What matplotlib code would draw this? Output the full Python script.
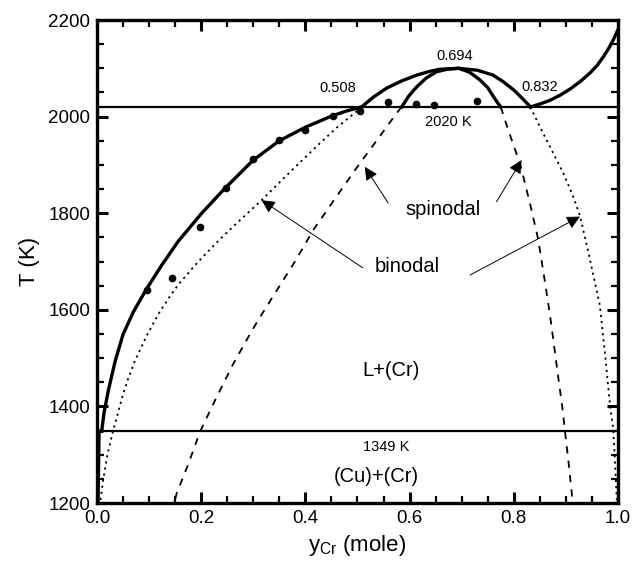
import matplotlib
matplotlib.use("Agg")
import matplotlib.pyplot as plt
from matplotlib.ticker import MultipleLocator

plt.rcParams['font.family'] = ['Liberation Sans', 'DejaVu Sans']

# liquidus, Cu-rich side (L / L+(Cr))
liq_left_x = [0.009, 0.014, 0.022, 0.035, 0.050, 0.070, 0.095, 0.124, 0.156, 0.201,
              0.246, 0.300, 0.350, 0.400, 0.450, 0.480, 0.508]
liq_left_T = [1349, 1390, 1434, 1494, 1549, 1596, 1643, 1692, 1742, 1800,
              1852, 1910, 1950, 1978, 2001, 2012, 2020]

# liquidus, Cr-rich side
liq_right_x = [0.832, 0.850, 0.870, 0.890, 0.908, 0.928, 0.946, 0.960, 0.972, 0.982, 0.991, 1.000]
liq_right_T = [2020, 2026, 2034, 2045, 2057, 2073, 2090, 2106, 2124, 2141, 2159, 2180]

# stable part of the binodal (above 2020 K)
bin_top_x = [0.508, 0.530, 0.556, 0.585, 0.614, 0.640, 0.658, 0.694, 0.730, 0.760, 0.780, 0.800, 0.816, 0.832]
bin_top_T = [2020, 2040, 2059, 2074, 2086, 2094, 2098, 2100, 2096, 2086, 2072, 2055, 2038, 2020]

# stable part of the spinodal (above 2020 K)
spi_top_x = [0.585, 0.598, 0.614, 0.632, 0.652, 0.672, 0.694, 0.715, 0.735, 0.750, 0.760, 0.768, 0.775]
spi_top_T = [2020, 2042, 2062, 2080, 2093, 2098, 2100, 2092, 2076, 2060, 2043, 2030, 2020]

# metastable binodal (dotted)
bin_left_x = [0.508, 0.495, 0.460, 0.425, 0.377, 0.345, 0.316, 0.265, 0.235, 0.207,
              0.188, 0.156, 0.140, 0.120, 0.098, 0.073, 0.060, 0.050, 0.031, 0.020,
              0.012, 0.006]
bin_left_T = [2020, 2008, 1977, 1942, 1892, 1858, 1827, 1776, 1745, 1714,
              1692, 1652, 1628, 1595, 1552, 1495, 1458, 1425, 1350, 1300,
              1248, 1200]
bin_right_x = [0.832, 0.850, 0.873, 0.895, 0.912, 0.927, 0.945, 0.965, 0.975, 0.985,
               0.991, 0.994, 0.997, 0.998]
bin_right_T = [2020, 1979, 1930, 1883, 1840, 1795, 1710, 1610, 1510, 1399,
               1351, 1290, 1223, 1200]

# metastable spinodal (dashed)
spi_left_x = [0.585, 0.575, 0.540, 0.505, 0.460, 0.415, 0.380, 0.345, 0.310, 0.287,
              0.260, 0.230, 0.198, 0.175, 0.153, 0.148]
spi_left_T = [2020, 2007, 1955, 1904, 1835, 1765, 1700, 1640, 1580, 1537,
              1485, 1420, 1348, 1280, 1220, 1200]
spi_right_x = [0.775, 0.787, 0.799, 0.812, 0.830, 0.847, 0.858, 0.869, 0.878, 0.886,
               0.893, 0.898, 0.905, 0.911, 0.913]
spi_right_T = [2020, 1980, 1942, 1903, 1825, 1745, 1670, 1593, 1520, 1455,
               1400, 1351, 1285, 1223, 1200]

# (Cu) solvus
solvus_x = [0.002, 0.004, 0.009]
solvus_T = [1200, 1349, 1349]

# experimental points
exp_x = [0.096, 0.144, 0.198, 0.247, 0.300, 0.350, 0.400, 0.453, 0.505, 0.558, 0.612, 0.647, 0.729]
exp_T = [1641, 1666, 1772, 1852, 1912, 1952, 1972, 2002, 2011, 2031, 2027, 2023, 2033]

T_mono = 2020
T_eut = 1349

fig = plt.figure(figsize=(6.33, 5.65), dpi=100)
ax = fig.add_axes([0.1532, 0.1097, 0.8231, 0.8549])

ax.axhline(T_mono, color='k', lw=1.6)
ax.axhline(T_eut, color='k', lw=1.6)

ax.plot(liq_left_x, liq_left_T, 'k-', lw=2.4)
ax.plot(liq_right_x, liq_right_T, 'k-', lw=2.4)
ax.plot(bin_top_x, bin_top_T, 'k-', lw=2.4)
ax.plot(spi_top_x, spi_top_T, 'k-', lw=2.4)
ax.plot(solvus_x, solvus_T, 'k-', lw=2.4)

ax.plot(bin_left_x, bin_left_T, 'k', ls=(0, (1.2, 2.2)), lw=1.3)
ax.plot(bin_right_x, bin_right_T, 'k', ls=(0, (1.2, 2.2)), lw=1.3)
ax.plot(spi_left_x, spi_left_T, 'k', ls=(0, (4, 4)), lw=1.3)
ax.plot(spi_right_x, spi_right_T, 'k', ls=(0, (4, 4)), lw=1.3)

ax.plot(exp_x, exp_T, 'ko', ms=4.5)

# labels
ax.text(0.462, 2059, '0.508', fontsize=10.5, ha='center', va='center')
ax.text(0.687, 2125, '0.694', fontsize=10.5, ha='center', va='center')
ax.text(0.850, 2061, '0.832', fontsize=10.5, ha='center', va='center')
ax.text(0.674, 1989, '2020 K', fontsize=10.5, ha='center', va='center')
ax.text(0.555, 1316, '1349 K', fontsize=10.5, ha='center', va='center')
ax.text(0.565, 1475, 'L+(Cr)', fontsize=14.5, ha='center', va='center')
ax.text(0.537, 1254, '(Cu)+(Cr)', fontsize=14.5, ha='center', va='center')
ax.text(0.664, 1807, 'spinodal', fontsize=14.5, ha='center', va='center')
ax.text(0.595, 1689, 'binodal', fontsize=14.5, ha='center', va='center')

arrow = dict(arrowstyle='-|>', color='k', lw=0.7, mutation_scale=20, shrinkA=0, shrinkB=0)
ax.annotate('', xy=(0.316, 1827), xytext=(0.51, 1687), arrowprops=arrow)
ax.annotate('', xy=(0.927, 1793), xytext=(0.716, 1672), arrowprops=arrow)
ax.annotate('', xy=(0.514, 1896), xytext=(0.559, 1821), arrowprops=arrow)
ax.annotate('', xy=(0.815, 1910), xytext=(0.767, 1824), arrowprops=arrow)

ax.set_xlim(0, 1)
ax.set_ylim(1200, 2200)
ax.xaxis.set_major_locator(MultipleLocator(0.2))
ax.xaxis.set_minor_locator(MultipleLocator(0.05))
ax.yaxis.set_major_locator(MultipleLocator(200))
ax.yaxis.set_minor_locator(MultipleLocator(50))
ax.xaxis.set_major_formatter(plt.FuncFormatter(lambda v, p: f'{v:.1f}'))
ax.tick_params(which='both', direction='in', top=True, right=True, labelsize=13.5)
ax.tick_params(which='major', length=8, width=2.2, pad=5)
ax.tick_params(which='minor', length=5, width=1.6)
for s in ax.spines.values():
    s.set_linewidth(2.4)

ax.set_xlabel(r'y$_{\mathregular{Cr}}$ (mole)', fontsize=16, labelpad=4)
ax.set_ylabel('T (K)', fontsize=16, labelpad=6)

plt.savefig('out.png', dpi=100)
